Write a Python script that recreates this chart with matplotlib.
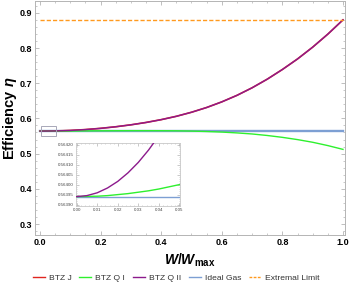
import matplotlib
matplotlib.use("Agg")
import matplotlib.pyplot as plt
from matplotlib.ticker import MultipleLocator
from matplotlib.lines import Line2D
from matplotlib.patches import Rectangle

plt.rcParams['font.family'] = ['Liberation Sans', 'DejaVu Sans']
plt.rcParams['mathtext.fontset'] = 'custom'
plt.rcParams['mathtext.it'] = 'Liberation Sans:italic:bold'
plt.rcParams['mathtext.rm'] = 'Liberation Sans:bold'
plt.rcParams['mathtext.bf'] = 'Liberation Sans:bold'

# ---- data ----
x_main = [0.0, 0.05, 0.1, 0.15, 0.2, 0.25, 0.3, 0.35, 0.4, 0.45, 0.5,
          0.55, 0.6, 0.65, 0.7, 0.75, 0.8, 0.85, 0.9, 0.95, 1.0]
btz_j = [0.5639, 0.5644, 0.5658, 0.5683, 0.5718, 0.5763, 0.5818, 0.5885, 0.5965,
         0.6060, 0.6175, 0.6310, 0.6470, 0.6655, 0.6870, 0.7115, 0.7390, 0.7690,
         0.8025, 0.8395, 0.8800]
btz_q1 = [0.5639, 0.5640, 0.5642, 0.5645, 0.5648, 0.5650, 0.5652, 0.5652, 0.5651,
          0.5648, 0.5640, 0.5628, 0.5612, 0.5588, 0.5558, 0.5515, 0.5462, 0.5398,
          0.5322, 0.5228, 0.5120]
btz_q2 = btz_j
ideal_gas = [0.56394] * len(x_main)
extremal = [0.88] * len(x_main)

x_inset = [0.0, 0.005, 0.01, 0.015, 0.02, 0.025, 0.03, 0.035, 0.04, 0.045, 0.05]
q2_inset = [0.563940, 0.563945, 0.563959, 0.563983, 0.564016, 0.564059, 0.564111,
            0.564173, 0.564244, 0.564325, 0.564415]
q1_inset = [0.563940, 0.563941, 0.563942, 0.563945, 0.563950, 0.563955, 0.563962,
            0.563969, 0.563978, 0.563989, 0.564000]
ig_inset = [0.56394] * len(x_inset)

labels = ['BTZ J', 'BTZ Q I', 'BTZ Q II', 'Ideal Gas', 'Extremal Limit']
xticks = [0.0, 0.2, 0.4, 0.6, 0.8, 1.0]
yticks = [0.3, 0.4, 0.5, 0.6, 0.7, 0.8, 0.9]
inset_xticks = [0.0, 0.01, 0.02, 0.03, 0.04, 0.05]
inset_yticks = [0.56390, 0.56395, 0.56400, 0.56405, 0.56410, 0.56415, 0.56420]

c_red = '#e0251f'
c_green = '#2ef02e'
c_purple = '#8c1a8c'
c_blue = '#7d9fd3'
c_orange = '#ff9a1f'
frame_c = '#b4b4b4'

fig = plt.figure(figsize=(3.49, 2.87), dpi=100)
ax = fig.add_axes([0.1003, 0.181, 0.8882, 0.816])

ax.plot(x_main, ideal_gas, color=c_blue, lw=1.7, zorder=2)
ax.plot(x_main, btz_j, color=c_red, lw=1.2, zorder=3)
ax.plot(x_main, btz_q1, color=c_green, lw=1.0, zorder=4)
ax.plot(x_main, btz_q2, color=c_purple, lw=1.0, zorder=5)
ax.plot(x_main, extremal, color=c_orange, lw=1.0, ls=(0, (3, 1.5)), zorder=5)
ax.add_patch(Rectangle((0.002, 0.549), 0.05, 0.0305, fill=False, ec='#a8a8b8', lw=0.7, zorder=6))

ax.set_xlim(-0.0165, 1.0066)
ax.set_ylim(0.2686, 0.934)
ax.set_xticks(xticks)
ax.set_yticks(yticks)
ax.set_xticklabels([f'{v:.1f}' for v in xticks])
ax.set_yticklabels([f'{v:.1f}' for v in yticks])
ax.xaxis.set_minor_locator(MultipleLocator(0.05))
ax.yaxis.set_minor_locator(MultipleLocator(0.02))
ax.tick_params(which='both', direction='in', top=True, right=True, color=frame_c,
               labelsize=6.5, pad=2)
ax.tick_params(which='major', length=3, width=0.6)
ax.tick_params(which='minor', length=1.6, width=0.5)
for lab in ax.get_xticklabels() + ax.get_yticklabels():
    lab.set_fontweight('bold')
for s in ax.spines.values():
    s.set_color(frame_c)
    s.set_linewidth(0.7)

ax.set_xlabel(r'$W/W_{\mathbf{max}}$', fontsize=10, labelpad=3.5)
ax.set_ylabel(r'Efficiency $\eta$', fontsize=10.5, fontweight='bold', labelpad=0.5)

# inset
ins = fig.add_axes([0.2178, 0.2822, 0.298, 0.2195])
ins.plot(x_inset, ig_inset, color=c_blue, lw=1.0, zorder=2)
ins.plot(x_inset, q1_inset, color=c_green, lw=1.0, zorder=3)
ins.plot(x_inset, q2_inset, color=c_purple, lw=1.0, zorder=4)
ins.set_xlim(-0.0003, 0.0503)
ins.set_ylim(0.563893, 0.564208)
ins.set_xticks(inset_xticks)
ins.set_yticks(inset_yticks)
ins.set_xticklabels([f'{v:.2f}' for v in inset_xticks])
ins.set_yticklabels([f'{v:.5f}' for v in inset_yticks])
ins.xaxis.set_minor_locator(MultipleLocator(0.002))
ins.yaxis.set_minor_locator(MultipleLocator(0.00001))
ins.tick_params(which='both', direction='in', top=True, right=True, color=frame_c,
                labelsize=3.2, pad=1.5, labelcolor='#444444')
ins.tick_params(which='major', length=2, width=0.5)
ins.tick_params(which='minor', length=1, width=0.4)
for s in ins.spines.values():
    s.set_color('#c8c8c8')
    s.set_linewidth(0.6)

handles = [
    Line2D([], [], color=c_red, lw=1.0),
    Line2D([], [], color=c_green, lw=1.0),
    Line2D([], [], color=c_purple, lw=1.0),
    Line2D([], [], color=c_blue, lw=1.0),
    Line2D([], [], color=c_orange, lw=1.0, ls=(0, (2, 1))),
]
fig.legend(handles, labels, loc='center', bbox_to_anchor=(0.505, 0.031), ncol=5,
           frameon=False, fontsize=6.1, handlelength=1.4, handletextpad=0.5,
           columnspacing=0.9, labelcolor='#333333')

fig.savefig('out.png', dpi=100)
